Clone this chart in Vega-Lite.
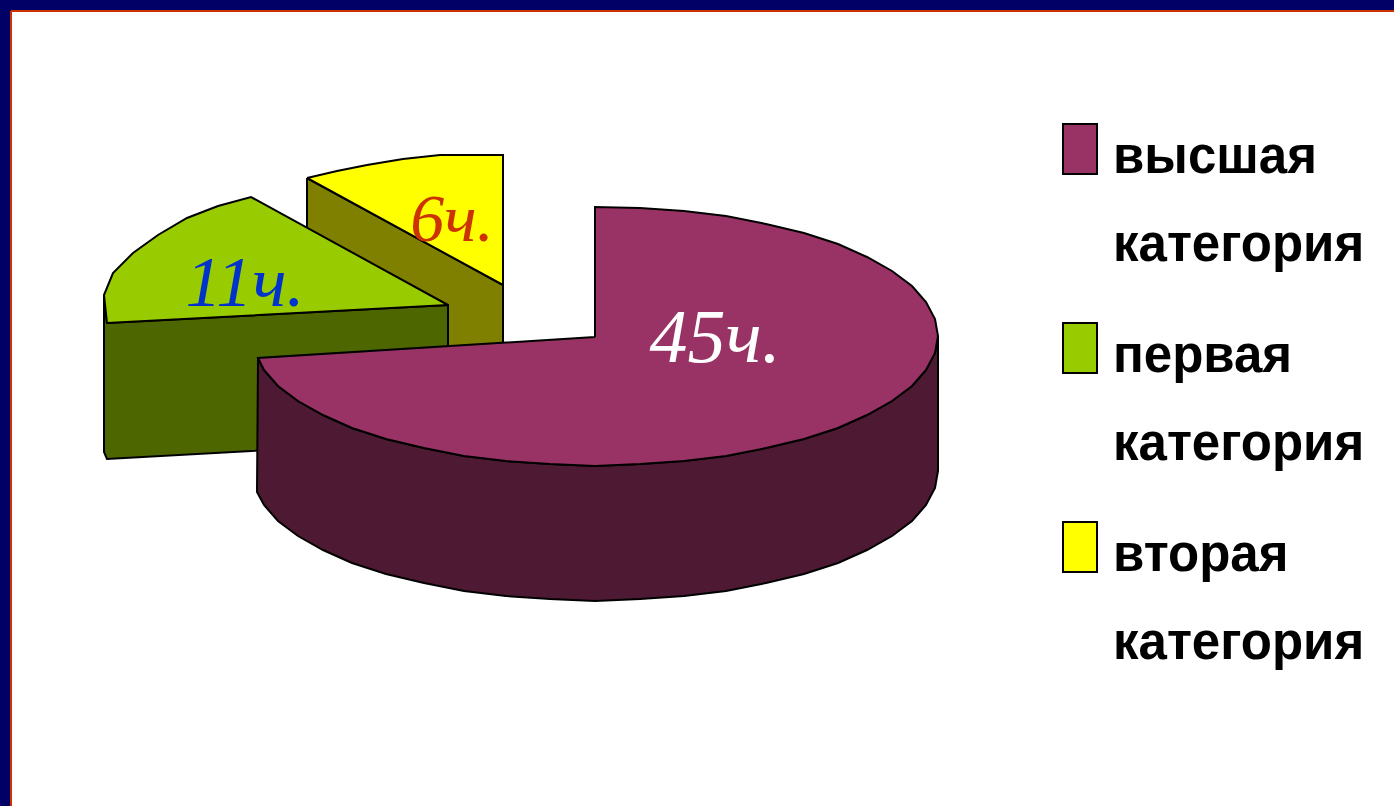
{
"$schema":"https://vega.github.io/schema/vega-lite/v6.json",
"width":1383,"height":795,
"autosize":{"type":"none"},
"padding":{"left":11,"top":11,"right":0,"bottom":0},
"background":"#000066",
"view":{"fill":"#ffffff","stroke":null},
"datasets":{
"faces":[
{"part":"вторая бок","pt":1,"x":307,"y":178},{"part":"вторая бок","pt":2,"x":503,"y":285},{"part":"вторая бок","pt":3,"x":503,"y":400},{"part":"вторая бок","pt":4,"x":307,"y":400},{"part":"вторая бок","pt":5,"x":307,"y":178},
{"part":"вторая категория","pt":1,"x":307,"y":178},{"part":"вторая категория","pt":2,"x":337,"y":171},{"part":"вторая категория","pt":3,"x":367,"y":165},{"part":"вторая категория","pt":4,"x":403,"y":159},{"part":"вторая категория","pt":5,"x":440,"y":155},{"part":"вторая категория","pt":6,"x":503,"y":155},{"part":"вторая категория","pt":7,"x":503,"y":285},{"part":"вторая категория","pt":8,"x":307,"y":178},
{"part":"первая бок","pt":1,"x":107,"y":323},{"part":"первая бок","pt":2,"x":448,"y":305},{"part":"первая бок","pt":3,"x":448,"y":440},{"part":"первая бок","pt":4,"x":107,"y":459},{"part":"первая бок","pt":5,"x":104,"y":452},{"part":"первая бок","pt":6,"x":104,"y":295},{"part":"первая бок","pt":7,"x":107,"y":323},
{"part":"первая категория","pt":1,"x":448,"y":305},{"part":"первая категория","pt":2,"x":251,"y":197},{"part":"первая категория","pt":3,"x":218,"y":206},{"part":"первая категория","pt":4,"x":187,"y":218},{"part":"первая категория","pt":5,"x":158,"y":235},{"part":"первая категория","pt":6,"x":133,"y":253},{"part":"первая категория","pt":7,"x":113,"y":273},{"part":"первая категория","pt":8,"x":104,"y":295},{"part":"первая категория","pt":9,"x":107,"y":323},{"part":"первая категория","pt":10,"x":448,"y":305},
{"part":"высшая бок","pt":1,"x":938,"y":336},{"part":"высшая бок","pt":2,"x":935,"y":353},{"part":"высшая бок","pt":3,"x":926,"y":370},{"part":"высшая бок","pt":4,"x":912,"y":386},{"part":"высшая бок","pt":5,"x":892,"y":401},{"part":"высшая бок","pt":6,"x":867,"y":415},{"part":"высшая бок","pt":7,"x":838,"y":428},{"part":"высшая бок","pt":8,"x":804,"y":439},{"part":"высшая бок","pt":9,"x":766,"y":448},{"part":"высшая бок","pt":10,"x":726,"y":456},{"part":"высшая бок","pt":11,"x":684,"y":461},{"part":"высшая бок","pt":12,"x":640,"y":464},{"part":"высшая бок","pt":13,"x":595,"y":466},{"part":"высшая бок","pt":14,"x":550,"y":464},{"part":"высшая бок","pt":15,"x":506,"y":461},{"part":"высшая бок","pt":16,"x":464,"y":456},{"part":"высшая бок","pt":17,"x":424,"y":448},{"part":"высшая бок","pt":18,"x":386,"y":439},{"part":"высшая бок","pt":19,"x":352,"y":428},{"part":"высшая бок","pt":20,"x":323,"y":415},{"part":"высшая бок","pt":21,"x":298,"y":401},{"part":"высшая бок","pt":22,"x":278,"y":386},{"part":"высшая бок","pt":23,"x":264,"y":370},{"part":"высшая бок","pt":24,"x":258,"y":358},{"part":"высшая бок","pt":25,"x":257,"y":492},{"part":"высшая бок","pt":26,"x":264,"y":505},{"part":"высшая бок","pt":27,"x":278,"y":521},{"part":"высшая бок","pt":28,"x":298,"y":536},{"part":"высшая бок","pt":29,"x":323,"y":550},{"part":"высшая бок","pt":30,"x":352,"y":563},{"part":"высшая бок","pt":31,"x":386,"y":574},{"part":"высшая бок","pt":32,"x":424,"y":583},{"part":"высшая бок","pt":33,"x":464,"y":591},{"part":"высшая бок","pt":34,"x":506,"y":596},{"part":"высшая бок","pt":35,"x":550,"y":599},{"part":"высшая бок","pt":36,"x":595,"y":601},{"part":"высшая бок","pt":37,"x":640,"y":599},{"part":"высшая бок","pt":38,"x":684,"y":596},{"part":"высшая бок","pt":39,"x":726,"y":591},{"part":"высшая бок","pt":40,"x":766,"y":583},{"part":"высшая бок","pt":41,"x":804,"y":574},{"part":"высшая бок","pt":42,"x":838,"y":563},{"part":"высшая бок","pt":43,"x":867,"y":550},{"part":"высшая бок","pt":44,"x":892,"y":536},{"part":"высшая бок","pt":45,"x":912,"y":521},{"part":"высшая бок","pt":46,"x":926,"y":505},{"part":"высшая бок","pt":47,"x":935,"y":488},{"part":"высшая бок","pt":48,"x":938,"y":471},{"part":"высшая бок","pt":49,"x":938,"y":336},
{"part":"высшая категория","pt":1,"x":595,"y":337},{"part":"высшая категория","pt":2,"x":595,"y":207},{"part":"высшая категория","pt":3,"x":640,"y":208},{"part":"высшая категория","pt":4,"x":684,"y":211},{"part":"высшая категория","pt":5,"x":726,"y":216},{"part":"высшая категория","pt":6,"x":766,"y":224},{"part":"высшая категория","pt":7,"x":804,"y":233},{"part":"высшая категория","pt":8,"x":838,"y":244},{"part":"высшая категория","pt":9,"x":867,"y":257},{"part":"высшая категория","pt":10,"x":892,"y":271},{"part":"высшая категория","pt":11,"x":912,"y":286},{"part":"высшая категория","pt":12,"x":926,"y":302},{"part":"высшая категория","pt":13,"x":935,"y":319},{"part":"высшая категория","pt":14,"x":938,"y":336},{"part":"высшая категория","pt":15,"x":935,"y":353},{"part":"высшая категория","pt":16,"x":926,"y":370},{"part":"высшая категория","pt":17,"x":912,"y":386},{"part":"высшая категория","pt":18,"x":892,"y":401},{"part":"высшая категория","pt":19,"x":867,"y":415},{"part":"высшая категория","pt":20,"x":838,"y":428},{"part":"высшая категория","pt":21,"x":804,"y":439},{"part":"высшая категория","pt":22,"x":766,"y":448},{"part":"высшая категория","pt":23,"x":726,"y":456},{"part":"высшая категория","pt":24,"x":684,"y":461},{"part":"высшая категория","pt":25,"x":640,"y":464},{"part":"высшая категория","pt":26,"x":595,"y":466},{"part":"высшая категория","pt":27,"x":550,"y":464},{"part":"высшая категория","pt":28,"x":506,"y":461},{"part":"высшая категория","pt":29,"x":464,"y":456},{"part":"высшая категория","pt":30,"x":424,"y":448},{"part":"высшая категория","pt":31,"x":386,"y":439},{"part":"высшая категория","pt":32,"x":352,"y":428},{"part":"высшая категория","pt":33,"x":323,"y":415},{"part":"высшая категория","pt":34,"x":298,"y":401},{"part":"высшая категория","pt":35,"x":278,"y":386},{"part":"высшая категория","pt":36,"x":264,"y":370},{"part":"высшая категория","pt":37,"x":258,"y":358},{"part":"высшая категория","pt":38,"x":595,"y":337}
],
"labels":[
{"slice":"высшая категория","hours":45,"label":"45ч.","x":715,"y":362,"size":76},
{"slice":"первая категория","hours":11,"label":"11ч.","x":245,"y":306,"size":72},
{"slice":"вторая категория","hours":6,"label":"6ч.","x":452,"y":241,"size":68}
]},
"layer":[
{"data":{"name":"faces"},
"mark":{"type":"line","stroke":"#000000","strokeWidth":2,"strokeJoin":"miter","clip":true},
"encoding":{
"x":{"field":"x","type":"quantitative","scale":{"domain":[11,1394],"nice":false,"zero":false},"axis":{"orient":"top","domainColor":"#CC3300","domainWidth":2,"translate":0,"ticks":false,"labels":false,"grid":false,"title":null}},
"y":{"field":"y","type":"quantitative","scale":{"domain":[11,806],"reverse":true,"nice":false,"zero":false},"axis":{"orient":"left","domainColor":"#CC3300","domainWidth":2,"translate":0,"ticks":false,"labels":false,"grid":false,"title":null}},
"order":{"field":"pt","type":"quantitative"},
"detail":{"field":"part"},
"fill":{"field":"part","type":"nominal",
"scale":{"domain":["высшая категория","первая категория","вторая категория","высшая бок","первая бок","вторая бок"],"range":["#993366","#99CC00","#FFFF00","#4D1933","#4D6600","#808000"]},
"legend":{"orient":"none","legendX":1043,"legendY":112,"title":null,"values":["высшая категория","первая категория","вторая категория"],
"symbolType":"M-0.68,-1H0.68V1H-0.68Z","symbolSize":2500,"symbolStrokeColor":"#000000","symbolStrokeWidth":2,"symbolOpacity":1,
"labelExpr":"split(datum.label,' ')","labelFont":"Liberation Sans","labelFontWeight":"bold","labelFontSize":51,"labelLimit":400,"labelColor":"#000000","labelBaseline":"alphabetic","labelOffset":7,"rowPadding":48,
"encode":{"labels":{"update":{"lineHeight":{"value":88},"dy":{"value":24}}}}}}
}},
{"data":{"name":"labels"},
"mark":{"type":"text","font":"Liberation Serif","fontStyle":"italic","align":"center","baseline":"alphabetic"},
"encoding":{
"x":{"field":"x","type":"quantitative"},
"y":{"field":"y","type":"quantitative"},
"text":{"field":"label"},
"size":{"field":"size","type":"quantitative","scale":null},
"color":{"field":"slice","type":"nominal","scale":{"domain":["высшая категория","первая категория","вторая категория"],"range":["#FFFFFF","#0033CC","#CC3300"]},"legend":null}
}}
]
}
